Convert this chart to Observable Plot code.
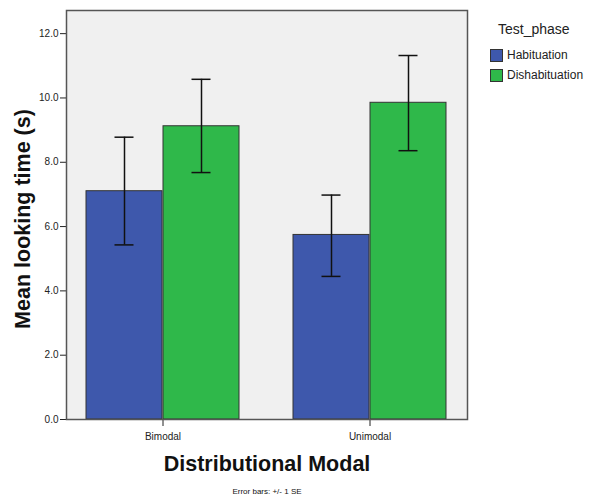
<!DOCTYPE html>
<html>
<head>
<meta charset="utf-8">
<script src="https://cdn.jsdelivr.net/npm/d3@7"></script>
<script src="https://cdn.jsdelivr.net/npm/@observablehq/plot@0.6"></script>
<style>
  body { margin: 0; background: white; font-family: "Liberation Sans", Arial, sans-serif; }
  #wrap { position: relative; width: 593px; height: 504px; }
  #legend { position: absolute; left: 490px; top: 21px; color: #222; }
  #legend .title { font-size: 14px; margin-left: 8px; margin-bottom: 8px; }
  #legend .row { display: flex; align-items: center; font-size: 12px; height: 20px; }
  #legend .sw { width: 13px; height: 13px; border: 1px solid #333; box-sizing: border-box; margin-right: 4px; }
</style>
</head>
<body>
<div id="wrap"></div>
<script>
const groups = ["Bimodal", "Unimodal"];
const phases = ["Habituation", "Dishabituation"];
const colors = ["#3e58ac", "#2fb84a"];
const habMean = [7.10, 5.74];
const habLow = [5.43, 4.45];
const habHigh = [8.78, 6.98];
const disMean = [9.12, 9.85];
const disLow = [7.68, 8.36];
const disHigh = [10.58, 11.32];
const yTicks = [0, 2, 4, 6, 8, 10, 12];

const hab = groups.map((g, i) => ({group: g, mean: habMean[i], lo: habLow[i], hi: habHigh[i]}));
const dis = groups.map((g, i) => ({group: g, mean: disMean[i], lo: disLow[i], hi: disHigh[i]}));

const bw = 154; // band width in px (layout)
const half = bw / 2;
const cap = 20;

function errMarks(data, center) {
  return [
    Plot.tickY(data, {x: "group", y: "lo", stroke: "#111", strokeWidth: 1.5,
      insetLeft: center - cap / 2, insetRight: bw - center - cap / 2}),
    Plot.tickY(data, {x: "group", y: "hi", stroke: "#111", strokeWidth: 1.5,
      insetLeft: center - cap / 2, insetRight: bw - center - cap / 2}),
    Plot.ruleX(data, {x: "group", y1: "lo", y2: "hi", stroke: "#111", strokeWidth: 1.5,
      dx: center - half})
  ];
}

const chart = Plot.plot({
  width: 593,
  height: 504,
  marginLeft: 66,
  marginRight: 126,
  marginTop: 10,
  marginBottom: 85,
  style: {fontFamily: "'Liberation Sans', Arial, sans-serif", fontSize: "10px", color: "#222", background: "white", overflow: "visible"},
  x: {domain: groups, paddingInner: 0.26, paddingOuter: 0.096, label: null, tickSize: 7, tickPadding: 6},
  y: {domain: [0, 12.72], ticks: yTicks, tickFormat: d3.format(".1f"), label: null, tickSize: 6, tickPadding: 2},
  marks: [
    Plot.frame({fill: "#f0f0f0"}),
    Plot.barY(hab, {x: "group", y: "mean", fill: colors[0], stroke: "#333", strokeWidth: 1, insetRight: half}),
    Plot.barY(dis, {x: "group", y: "mean", fill: colors[1], stroke: "#333", strokeWidth: 1, insetLeft: half}),
    ...errMarks(hab, half / 2),
    ...errMarks(dis, half + half / 2),
    Plot.frame({stroke: "#555", strokeWidth: 1.5}),
    Plot.ruleX([0], {frameAnchor: "left", stroke: "#555", strokeWidth: 2}),
    Plot.text(["Mean looking time (s)"], {frameAnchor: "left", textAnchor: "middle", rotate: -90, dx: -43, dy: 4, fontSize: 21.5, fontWeight: "bold", fill: "#111"}),
    Plot.text(["Distributional Modal"], {frameAnchor: "bottom", dy: 51, fontSize: 21.5, fontWeight: "bold", fill: "#111"}),
    Plot.text(["Error bars: +/- 1 SE"], {frameAnchor: "bottom", dy: 74, fontSize: 8, fill: "#111"})
  ]
});

const wrap = document.getElementById("wrap");
wrap.appendChild(chart);

const legend = document.createElement("div");
legend.id = "legend";
legend.innerHTML = `<div class="title">Test_phase</div>` +
  phases.map((p, i) => `<div class="row"><span class="sw" style="background:${colors[i]}"></span>${p}</div>`).join("");
wrap.appendChild(legend);
</script>
</body>
</html>
